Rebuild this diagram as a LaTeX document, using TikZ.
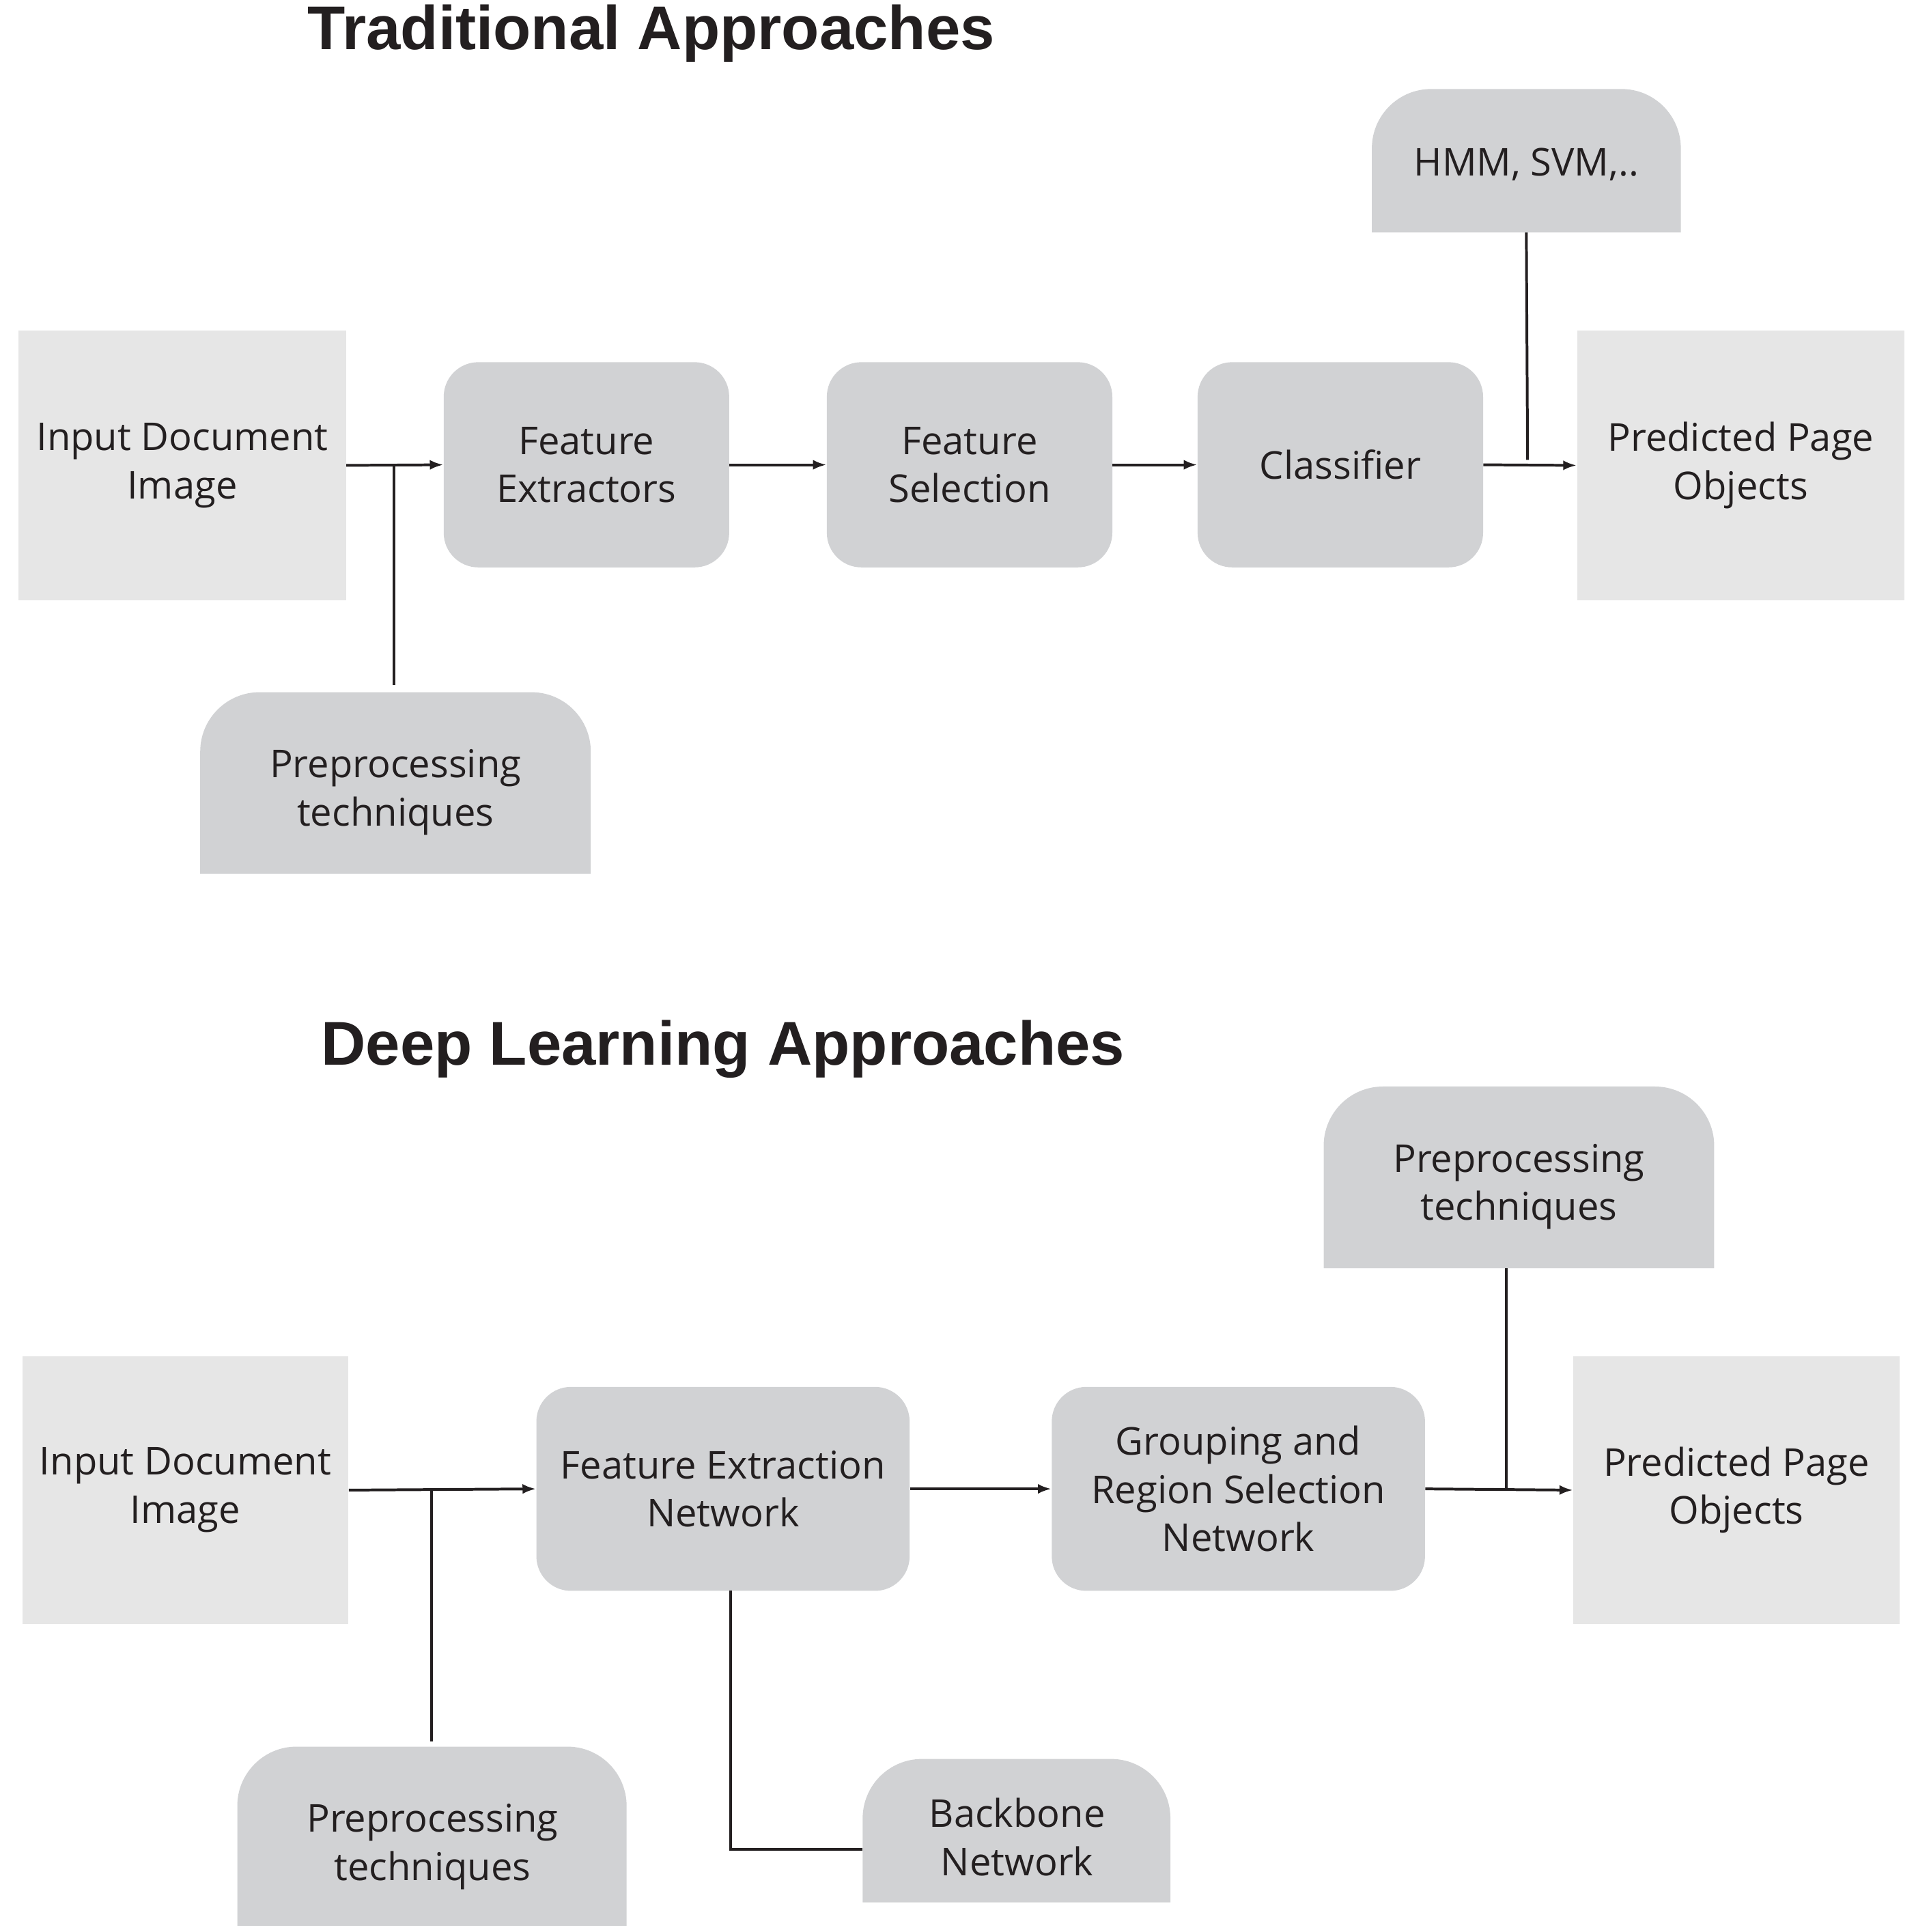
\documentclass[tikz,border=0pt]{standalone}
\usepackage{fontspec}
\setmainfont{Open Sans}
\newfontfamily\titlefont{Liberation Sans}
\usetikzlibrary{arrows.meta}
\definecolor{lightbox}{HTML}{E6E6E6}
\definecolor{darkbox}{HTML}{D1D2D4}
\definecolor{ink}{HTML}{231F20}
\begin{document}
\begin{tikzpicture}[x=1pt,y=-1pt,
  txt/.style={font=\fontsize{31}{39}\selectfont, text=ink, align=center, inner sep=0},
  sq/.style={txt, fill=lightbox, minimum width=#1, minimum height=218},
  rb/.style={txt, fill=darkbox, rounded corners=28, minimum height=166},
  tab/.style={txt},
  title/.style={font=\titlefont\bfseries\fontsize{50}{60}\selectfont, text=ink},
  con/.style={line width=2.2pt, draw=ink},
  arr/.style={con, -{Latex[length=11pt,width=8pt]}}]
\useasboundingbox (0,0) rectangle (1550,1563);
\newcommand{\tabbox}[5]{% name, x1,y1,x2,y2
  \fill[darkbox] (#2,#5) {[rounded corners=48] -- (#2,#3) -- (#4,#3)} -- (#4,#5) -- cycle;
  \coordinate (#1-n) at ({(#2+#4)/2},#3);
  \coordinate (#1-s) at ({(#2+#4)/2},#5);
}
% ---------- Top ----------
\node[title] (t1) at (527,27) {Traditional Approaches};
\node[sq=265] (in1) at (147.5,376.5) {Input Document\\Image};
\node[rb, minimum width=231] (fe) at (474.5,376) {Feature\\Extractors};
\node[rb, minimum width=231] (fs) at (784.5,376) {Feature\\Selection};
\node[rb, minimum width=231] (cl) at (1084.5,376) {Classifier};
\node[sq=265] (po1) at (1408.5,376.5) {Predicted Page\\Objects};
\tabbox{hmm}{1110}{72}{1360}{188}
\node[tab] (hmmt) at (1235,133) {HMM, SVM,..};
\tabbox{pp1}{162}{560}{478}{707}
\node[tab] (pp1t) at (320,641) {Preprocessing\\techniques};
\coordinate (j1) at (319,376);
\coordinate (j2) at (1236,376);
\draw[arr] (in1.east) -- (fe.west);
\draw[con] (j1) -- (319,554);
\draw[arr] (fe) -- (fs);
\draw[arr] (fs) -- (cl);
\draw[arr] (cl.east) -- (po1.west);
\draw[con] (hmm-s) -- (1236,372);
% ---------- Bottom ----------
\node[title] (t2) at (585,849) {Deep Learning Approaches};
\node[sq=264, minimum height=217] (in2) at (150,1205.5) {Input Document\\Image};
\node[rb, minimum width=302, minimum height=165] (fen) at (585,1204.5) {Feature Extraction\\Network};
\node[rb, minimum width=302, minimum height=165] (gr) at (1002,1204.5) {Grouping and\\Region Selection\\Network};
\node[sq=264, minimum height=217] (po2) at (1405,1205.5) {Predicted Page\\Objects};
\tabbox{pp2}{1071}{879}{1387}{1026}
\node[tab] (pp2t) at (1229,960) {Preprocessing\\techniques};
\tabbox{pp3}{192}{1413}{507}{1558}
\node[tab] (pp3t) at (350,1494) {Preprocessing\\techniques};
\tabbox{bb}{698}{1423}{947}{1539}
\node[tab] (bbt) at (823,1486) {Backbone\\Network};
\draw[arr] (in2.east) -- (fen.west);
\draw[con] (349,1205) -- (349,1409);
\draw[arr] (fen.east) -- (gr.west);
\draw[arr] (gr.east) -- (po2.west);
\draw[con] (1219,1026) -- (1219,1205);
\draw[con] (591,1287) |- (698,1496);
\end{tikzpicture}
\end{document}
